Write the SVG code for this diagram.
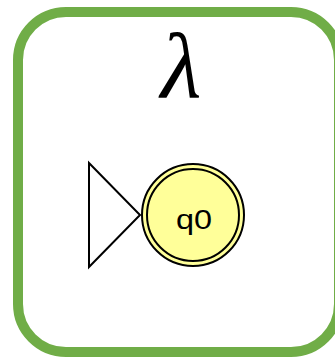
<svg xmlns="http://www.w3.org/2000/svg" width="335" height="357" viewBox="0 0 335 357">
<style>
.frame{fill:#ffffff;stroke:#70ad47;stroke-width:10}
.state{fill:#ffff99;stroke:#000000;stroke-width:2}
.start{fill:#ffffff;stroke:#000000;stroke-width:2;stroke-linejoin:miter}
.lbl{font-family:"Liberation Sans",Arial,sans-serif;font-size:27px;fill:#000000}
.lam{font-family:"Liberation Serif","DejaVu Serif",serif;font-size:94px;font-style:italic;fill:#000000}
</style>
<rect x="0" y="0" width="335" height="357" fill="#ffffff"/>
<rect class="frame" x="18" y="12" width="321" height="340" rx="48" ry="48"/>
<text class="lam" x="181" y="97" text-anchor="middle">λ</text>
<g id="connectors">
<polygon class="start" points="89,163 140,215 89,267"/>
</g>
<g id="q0">
<circle class="state" cx="193" cy="215" r="51"/>
<circle class="state" cx="193" cy="215" r="46"/>
<text class="lbl" x="194" y="229" text-anchor="middle" textLength="36" lengthAdjust="spacingAndGlyphs">q0</text>
</g>
</svg>
